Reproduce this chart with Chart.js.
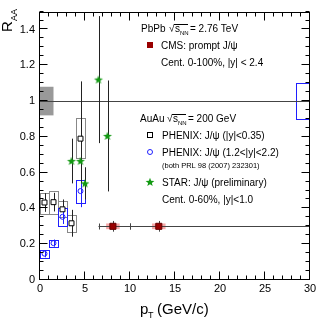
<!DOCTYPE html>
<html>
<head>
<meta charset="utf-8">
<script src="https://cdn.jsdelivr.net/npm/chart.js@4.4.1/dist/chart.umd.min.js"></script>
<style>
html, body { margin: 0; padding: 0; background: #fff; }
canvas { display: block; }
</style>
</head>
<body>
<canvas id="raaChart" width="332" height="319" style="width:332px;height:319px"></canvas>
<script>
var xTicks = [0, 5, 10, 15, 20, 25, 30];
var yTicks = [0, 0.2, 0.4, 0.6, 0.8, 1, 1.2, 1.4];

// CMS prompt J/psi, PbPb 2.76 TeV
var cmsPt = [8.1, 13.2];
var cmsRaa = [0.30, 0.30];
var cmsPtLow = [6.5, 10];
var cmsPtHigh = [10, 30];
var cmsStat = [0.03, 0.03];
var cmsSys = [0.016, 0.016];
var cmsGlobal = 0.08;

// PHENIX |y|<0.35
var phxMidPt = [0.5, 1.5, 2.5, 3.5, 4.5];
var phxMidRaa = [0.433, 0.435, 0.395, 0.317, 0.79];
var phxMidStat = [0.052, 0.052, 0.055, 0.075, 0.32];
var phxMidSysLow = [0.368, 0.368, 0.35, 0.267, 0.68];
var phxMidSysHigh = [0.485, 0.50, 0.44, 0.365, 0.908];

// PHENIX 1.2<|y|<2.2
var phxFwdPt = [0.5, 1.5, 2.5, 4.5];
var phxFwdRaa = [0.147, 0.206, 0.353, 0.497];
var phxFwdStat = [0.02, 0.02, 0.04, 0.09];
var phxFwdSysLow = [0.125, 0.182, 0.30, 0.43];
var phxFwdSysHigh = [0.17, 0.225, 0.40, 0.56];
var phxGlobal = 0.10;

// STAR preliminary
var starPt = [3.5, 4.5, 5.0, 6.5, 7.5];
var starRaa = [0.665, 0.665, 0.54, 1.12, 0.805];
var starStat = [0.125, 0.125, 0.09, 0.355, 0.31];

var FONT = '"Liberation Sans", Arial, Helvetica, sans-serif';
var GREEN = '#129912';
var BLUE = '#1f1fff';
var RED = '#990000';

function pts(xv, yv) {
    return xv.map(function(x, i) { return {x: x, y: yv[i]}; });
}

// filled 5-point star marker
function makeStar(r) {
    var c = document.createElement('canvas');
    var s = Math.ceil(r * 2) + 2;
    c.width = s; c.height = s;
    var g = c.getContext('2d');
    g.fillStyle = GREEN;
    g.beginPath();
    for (var k = 0; k < 10; k++) {
        var rad = (k % 2 === 0) ? r : r * 0.42;
        var a = -Math.PI / 2 + k * Math.PI / 5;
        var px = s / 2 + rad * Math.cos(a), py = s / 2 + rad * Math.sin(a) + 0.4;
        if (k === 0) g.moveTo(px, py); else g.lineTo(px, py);
    }
    g.closePath();
    g.fill();
    return c;
}
var starImg = makeStar(4.6);

function crisp(v) { return Math.round(v) + 0.5; }

var errorsPlugin = {
    id: 'errors',
    beforeDatasetsDraw: function(chart) {
        var ctx = chart.ctx, xs = chart.scales.x, ys = chart.scales.y, a = chart.chartArea;
        var X = function(v) { return xs.getPixelForValue(v); };
        var Y = function(v) { return ys.getPixelForValue(v); };
        ctx.save();
        ctx.beginPath();
        ctx.rect(a.left, a.top, a.right - a.left, a.bottom - a.top);
        ctx.clip();

        // global uncertainties
        ctx.fillStyle = '#999999';
        ctx.fillRect(X(0), Y(1 + cmsGlobal), X(1.5) - X(0), Y(1 - cmsGlobal) - Y(1 + cmsGlobal));
        ctx.strokeStyle = BLUE;
        ctx.lineWidth = 1;
        ctx.strokeRect(crisp(X(28.4)), crisp(Y(1 + phxGlobal)), Math.round(X(30) - X(28.4)), Math.round(Y(1 - phxGlobal) - Y(1 + phxGlobal)));

        // unity line
        ctx.strokeStyle = '#444444';
        ctx.beginPath();
        ctx.moveTo(a.left, crisp(Y(1)));
        ctx.lineTo(a.right, crisp(Y(1)));
        ctx.stroke();

        // CMS systematic boxes
        ctx.fillStyle = 'rgba(240,110,110,0.6)';
        cmsPt.forEach(function(x, i) {
            ctx.fillRect(X(x - 0.75), Y(cmsRaa[i] + cmsSys[i]), X(x + 0.75) - X(x - 0.75), Y(cmsRaa[i] - cmsSys[i]) - Y(cmsRaa[i] + cmsSys[i]));
        });

        // PHENIX systematic boxes
        function sysBoxes(xv, lo, hi, color, half) {
            ctx.strokeStyle = color;
            ctx.lineWidth = 1;
            xv.forEach(function(x, i) {
                var x0 = crisp(X(x - half)), x1 = crisp(X(x + half));
                var y0 = crisp(Y(hi[i])), y1 = crisp(Y(lo[i]));
                ctx.strokeRect(x0, y0, x1 - x0, y1 - y0);
            });
        }
        sysBoxes(phxMidPt, phxMidSysLow, phxMidSysHigh, '#888888', 0.5);
        sysBoxes(phxFwdPt, phxFwdSysLow, phxFwdSysHigh, BLUE, 0.45);

        // vertical stat errors
        function vbars(xv, yv, ev, color) {
            ctx.strokeStyle = color;
            ctx.lineWidth = 1;
            xv.forEach(function(x, i) {
                var px = crisp(X(x));
                ctx.beginPath();
                ctx.moveTo(px, Y(yv[i] + ev[i]));
                ctx.lineTo(px, Y(yv[i] - ev[i]));
                ctx.stroke();
            });
        }
        vbars(phxMidPt, phxMidRaa, phxMidStat, '#222222');
        vbars(phxFwdPt, phxFwdRaa, phxFwdStat, BLUE);
        vbars(starPt, starRaa, starStat, '#222222');
        vbars(cmsPt, cmsRaa, cmsStat, '#444444');

        // CMS pT bin widths
        ctx.strokeStyle = '#444444';
        cmsPt.forEach(function(x, i) {
            var py = crisp(Y(cmsRaa[i]));
            ctx.beginPath();
            ctx.moveTo(X(cmsPtLow[i]), py);
            ctx.lineTo(X(cmsPtHigh[i]), py);
            [cmsPtLow[i], cmsPtHigh[i]].forEach(function(e) {
                ctx.moveTo(crisp(X(e)), py - 3);
                ctx.lineTo(crisp(X(e)), py + 3);
            });
            ctx.stroke();
        });
        ctx.restore();
    },
    afterDatasetsDraw: function(chart) {
        var ctx = chart.ctx, xs = chart.scales.x, ys = chart.scales.y, a = chart.chartArea;
        ctx.save();
        ctx.strokeStyle = '#000';
        ctx.lineWidth = 1;
        var L = crisp(a.left) - 1, R = crisp(a.right) - 1, T = crisp(a.top), B = crisp(a.bottom) - 1;
        ctx.strokeRect(L, T, R - L, B - T);
        ctx.beginPath();
        var v, px, len;
        for (v = 0; v <= 30.001; v += 1) {
            px = crisp(xs.getPixelForValue(v)) - 1;
            len = (Math.round(v) % 5 === 0) ? 8 : 4;
            ctx.moveTo(px, B); ctx.lineTo(px, B - len);
            ctx.moveTo(px, T); ctx.lineTo(px, T + len);
        }
        for (v = 0; v <= 1.5001; v += 0.05) {
            var py = crisp(ys.getPixelForValue(v)) - 1;
            len = (Math.round(v * 20) % 4 === 0) ? 8 : 4;
            ctx.moveTo(L, py); ctx.lineTo(L + len, py);
            ctx.moveTo(R, py); ctx.lineTo(R - len, py);
        }
        ctx.stroke();

        // axis titles
        ctx.fillStyle = '#000';
        ctx.textBaseline = 'alphabetic';
        ctx.textAlign = 'left';
        ctx.font = '15px ' + FONT;
        ctx.fillText('p', 140, 314);
        ctx.font = '9px ' + FONT;
        ctx.fillText('T', 148, 318);
        ctx.font = '15px ' + FONT;
        ctx.fillText('(GeV/c)', 157, 314);

        ctx.save();
        ctx.translate(12, 32);
        ctx.rotate(-Math.PI / 2);
        ctx.font = '15px ' + FONT;
        ctx.fillText('R', 0, 0);
        ctx.font = '9px ' + FONT;
        ctx.fillText('AA', 11, 4.5);
        ctx.restore();

        // legend text
        function sqrtS(x, y, tail) {
            ctx.font = '10px ' + FONT;
            ctx.fillText('\u221A', x, y);
            ctx.fillText('s', x + 6, y);
            ctx.font = '6px ' + FONT;
            ctx.fillText('NN', x + 11, y + 2.5);
            ctx.beginPath();
            ctx.moveTo(x + 5, crisp(y - 8));
            ctx.lineTo(x + 19, crisp(y - 8));
            ctx.stroke();
            ctx.font = '10px ' + FONT;
            ctx.fillText(tail, x + 21, y);
        }
        ctx.textBaseline = 'alphabetic';
        ctx.font = '10px ' + FONT;
        ctx.fillText('PbPb', 141, 32);
        sqrtS(169, 32, '= 2.76 TeV');
        ctx.font = '10px ' + FONT;
        ctx.fillText('CMS: prompt J/\u03C8', 161, 49);
        ctx.fillText('Cent. 0-100%, |y| < 2.4', 161, 66);
        ctx.fillText('AuAu', 140, 122);
        sqrtS(167, 122, '= 200 GeV');
        ctx.font = '10px ' + FONT;
        ctx.fillText('PHENIX: J/\u03C8 (|y|<0.35)', 162, 139);
        ctx.fillText('PHENIX: J/\u03C8 (1.2<|y|<2.2)', 162, 155.5);
        ctx.font = '7.5px ' + FONT;
        ctx.fillText('(both PRL 98 (2007) 232301)', 162, 167.5);
        ctx.font = '10px ' + FONT;
        ctx.fillText('STAR: J/\u03C8 (preliminary)', 162, 186);
        ctx.fillText('Cent. 0-60%, |y|<1.0', 162, 203);

        // legend markers
        ctx.fillStyle = RED;
        ctx.fillRect(147, 42, 6, 6);
        ctx.fillStyle = '#fff';
        ctx.strokeStyle = '#000';
        ctx.fillRect(147.5, 132.5, 5, 5);
        ctx.strokeRect(147.5, 132.5, 5, 5);
        ctx.strokeStyle = BLUE;
        ctx.beginPath();
        ctx.arc(150, 152, 2.5, 0, Math.PI * 2);
        ctx.stroke();
        ctx.drawImage(starImg, 150 - starImg.width / 2, 182 - starImg.height / 2);
        ctx.restore();
    }
};

var chart = new Chart(document.getElementById('raaChart'), {
    type: 'scatter',
    data: {
        datasets: [
            {
                label: 'PHENIX |y|<0.35',
                data: pts(phxMidPt, phxMidRaa),
                pointStyle: 'rect',
                radius: 3.5,
                backgroundColor: '#ffffff',
                borderColor: '#000000',
                borderWidth: 1
            },
            {
                label: 'PHENIX 1.2<|y|<2.2',
                data: pts(phxFwdPt, phxFwdRaa),
                pointStyle: 'circle',
                radius: 2.5,
                backgroundColor: 'rgba(0,0,0,0)',
                borderColor: BLUE,
                borderWidth: 1
            },
            {
                label: 'STAR',
                data: pts(starPt, starRaa),
                pointStyle: starImg,
                radius: 5
            },
            {
                label: 'CMS',
                data: pts(cmsPt, cmsRaa),
                pointStyle: 'rect',
                radius: 4.3,
                backgroundColor: RED,
                borderColor: '#660000',
                borderWidth: 1
            }
        ]
    },
    options: {
        responsive: false,
        animation: false,
        events: [],
        layout: { padding: { left: 0, right: 22, top: 9, bottom: 0 } },
        plugins: { legend: { display: false }, tooltip: { enabled: false } },
        scales: {
            x: {
                type: 'linear',
                min: 0,
                max: 30,
                grid: { display: false, drawTicks: false },
                border: { display: false },
                afterBuildTicks: function(s) { s.ticks = xTicks.map(function(v) { return {value: v}; }); },
                afterFit: function(s) { s.height = 39; },
                ticks: {
                    padding: 2,
                    maxRotation: 0,
                    color: '#000',
                    font: { family: FONT, size: 11 },
                    callback: function(v) { return String(v); }
                }
            },
            y: {
                type: 'linear',
                min: 0,
                max: 1.5,
                grid: { display: false, drawTicks: false },
                border: { display: false },
                afterBuildTicks: function(s) { s.ticks = yTicks.map(function(v) { return {value: v}; }); },
                afterFit: function(s) { s.width = 40; },
                ticks: {
                    padding: 5,
                    color: '#000',
                    font: { family: FONT, size: 11 },
                    callback: function(v) { return String(Number(v.toFixed(1))); }
                }
            }
        }
    },
    plugins: [errorsPlugin]
});
</script>
</body>
</html>
